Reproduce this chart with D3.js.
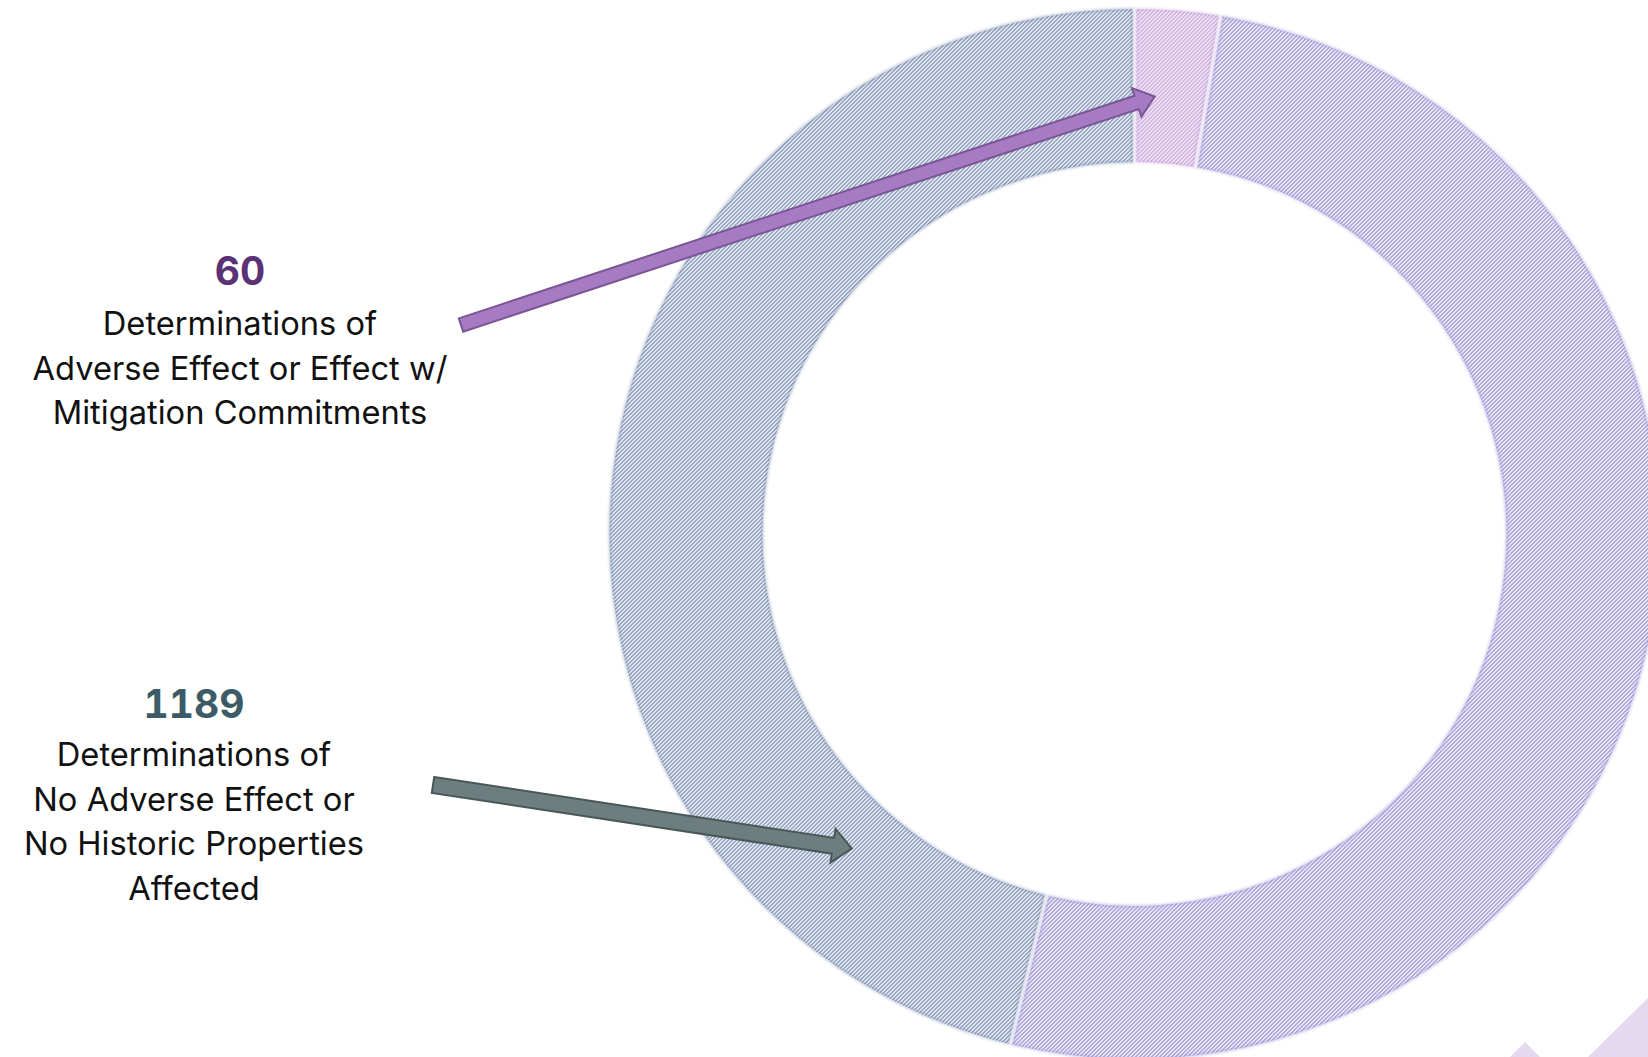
<!DOCTYPE html>
<html>
<head>
<meta charset="utf-8">
<script src="https://cdn.jsdelivr.net/npm/d3@7"></script>
<style>
  html, body { margin: 0; padding: 0; background: #ffffff; }
  svg { display: block; }
</style>
</head>
<body>
<svg id="chart" width="1648" height="1057"></svg>
<script>
// ---- data ----
const categories = ["Adverse Effect or Effect w/ Mitigation Commitments", "Other determinations", "No Adverse Effect or No Historic Properties Affected"];
const sliceValues = [60, 1223, 1104];
const labelCounts = [60, 1189];                 // annotation numbers
const labelLines = [
  ["Determinations of", "Adverse Effect or Effect w/", "Mitigation Commitments"],
  ["Determinations of", "No Adverse Effect or", "No Historic Properties", "Affected"]
];

// ---- styles ----
const sliceBg   = ["#eee2f4", "#e6e3f5", "#e0e5ef"];
const sliceLine = ["#b384cd", "#7b6ec2", "#4d6592"];
const numColors = ["#5b3275", "#3d5b66"];
const arrowFill = ["#a77bc4", "#6d7e7f"];
const arrowStroke = ["#7a5693", "#4a5758"];

const svg = d3.select("#chart");
const defs = svg.append("defs");

sliceBg.forEach((bg, i) => {
  const p = defs.append("pattern")
    .attr("id", "hatch" + i)
    .attr("patternUnits", "userSpaceOnUse")
    .attr("width", 4).attr("height", 4);
  p.append("rect").attr("width", 4).attr("height", 4).attr("fill", bg);
  p.append("path")
    .attr("d", "M-1,1 L1,-1 M0,4 L4,0 M3,5 L5,3")
    .attr("stroke", sliceLine[i])
    .attr("stroke-width", 0.95);
});

// soft edge filter
const f = defs.append("filter").attr("id", "soft").attr("x", "-5%").attr("y", "-5%").attr("width", "110%").attr("height", "110%");
f.append("feGaussianBlur").attr("stdDeviation", 1.2);

// ---- donut ----
const cx = 1134.5, cy = 534;
const R = 525, r = 372;

const pie = d3.pie().sort(null).value(d => d).padAngle(4 / R);
const arcs = pie(sliceValues);
const arc = d3.arc().innerRadius(r).outerRadius(R).padRadius(R);

const g = svg.append("g").attr("transform", `translate(${cx},${cy})`);
g.selectAll("path.slice")
  .data(arcs)
  .join("path")
  .attr("class", "slice")
  .attr("d", arc)
  .attr("fill", (d, i) => `url(#hatch${i})`);
// soft darker edge
g.selectAll("path.edge")
  .data(arcs)
  .join("path")
  .attr("class", "edge")
  .attr("d", arc)
  .attr("fill", "none")
  .attr("stroke", (d, i) => sliceLine[i])
  .attr("stroke-opacity", 0.3)
  .attr("stroke-width", 2.5)
  .attr("filter", "url(#soft)");

// ---- decoration bottom-right ----
const W = 1648, H = 1057;
svg.append("path")
  .attr("d", `M1588,${H} L${W},998 L${W},${H} Z`)
  .attr("fill", "#e4d9ee");
svg.append("path")
  .attr("d", `M1510,${H} L1525,1042 L1540,${H} Z`)
  .attr("fill", "#e4d9ee");

// ---- arrows ----
function polar(angle, rad) {
  return [cx + rad * Math.sin(angle), cy - rad * Math.cos(angle)];
}
const tipSlice = [0, 2];
const tipFrac = [0.28, 0.17];
const tipRad = [438, 423];
const tails = [[461, 325], [433, 785]];
const shaftW = [14, 16];
const headW = [30, 34];
const headL = [19, 19];

tails.forEach((tail, i) => {
  const a = arcs[tipSlice[i]];
  const ang = a.startAngle + (a.endAngle - a.startAngle) * tipFrac[i];
  const tip = polar(ang, tipRad[i]);
  const dx = tip[0] - tail[0], dy = tip[1] - tail[1];
  const len = Math.hypot(dx, dy);
  const rot = Math.atan2(dy, dx) * 180 / Math.PI;
  const sw = shaftW[i] / 2, hw = headW[i] / 2, hl = headL[i];
  const pts = [[0, -sw], [len - hl, -sw], [len - hl, -hw], [len, 0], [len - hl, hw], [len - hl, sw], [0, sw]];
  svg.append("path")
    .attr("transform", `translate(${tail[0]},${tail[1]}) rotate(${rot})`)
    .attr("d", d3.line()(pts) + "Z")
    .attr("fill", arrowFill[i])
    .attr("stroke", arrowStroke[i])
    .attr("stroke-width", 2)
    .attr("stroke-linejoin", "miter");
});

// ---- labels ----
const fontFam = "Inter, 'Noto Sans', sans-serif";
const blockX = [240, 194];
const numBase = [285, 718];
const lineBase0 = [335, 766];
const lineStep = 44.5;

const probe = svg.append("text").attr("font-family", fontFam).attr("font-size", 30).text(labelLines[0][1]);
const w30 = probe.node().getComputedTextLength();
probe.remove();
const bodySize = 30 * 415 / w30;

labelLines.forEach((lines, i) => {
  svg.append("text")
    .attr("x", blockX[i]).attr("y", numBase[i])
    .attr("text-anchor", "middle")
    .attr("font-family", fontFam)
    .attr("font-weight", 700)
    .attr("font-size", 39)
    .style("font-variant-numeric", "tabular-nums")
    .style("font-feature-settings", "'tnum' 1")
    .attr("fill", numColors[i])
    .text(labelCounts[i]);
  lines.forEach((ln, j) => {
    svg.append("text")
      .attr("x", blockX[i]).attr("y", lineBase0[i] + j * lineStep)
      .attr("text-anchor", "middle")
      .attr("font-family", fontFam)
      .attr("font-size", bodySize)
      .attr("fill", "#111111")
      .text(ln);
  });
});
</script>
</body>
</html>
